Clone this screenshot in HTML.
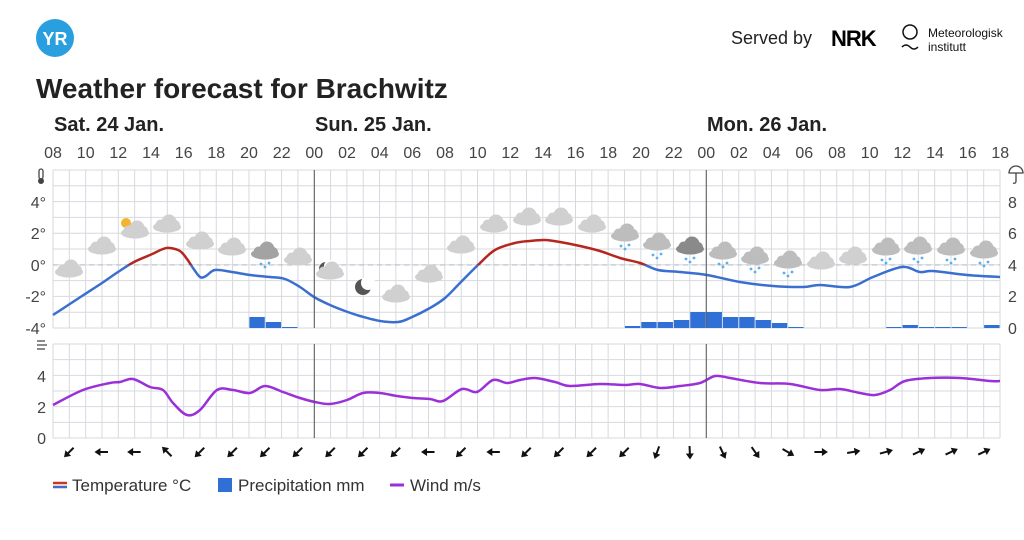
<!DOCTYPE html>
<html><head><meta charset="utf-8"><style>
html,body{margin:0;padding:0;background:#fff;}
svg{display:block;font-family:"Liberation Sans",sans-serif;}
</style></head><body>
<svg id="s" width="1024" height="540" viewBox="0 0 1024 540" xmlns="http://www.w3.org/2000/svg">
<defs>
<clipPath id="above"><rect x="0" y="0" width="1024" height="265"/></clipPath>
<clipPath id="below"><rect x="0" y="265" width="1024" height="300"/></clipPath>
</defs>
<circle cx="55" cy="38" r="19" fill="#2a9fdf"/>
<text x="55" y="45" text-anchor="middle" font-size="18" font-weight="bold" fill="#fff">YR</text>
<text x="731" y="44" font-size="18" fill="#222">Served by</text>
<text x="831" y="46" font-size="22" font-weight="bold" fill="#000" letter-spacing="-1">NRK</text>
<circle cx="910" cy="32" r="7" fill="none" stroke="#111" stroke-width="1.5"/>
<path d="M902 47 q4 -4 8 0 t8 0" fill="none" stroke="#111" stroke-width="1.5"/>
<text x="928" y="37" font-size="12" fill="#111">Meteorologisk</text>
<text x="928" y="51" font-size="12" fill="#111">institutt</text>
<text x="36" y="98" font-size="28" font-weight="bold" fill="#222">Weather forecast for Brachwitz</text>
<g font-size="20" font-weight="bold" fill="#222">
<text x="54" y="131">Sat. 24 Jan.</text>
<text x="315" y="131">Sun. 25 Jan.</text>
<text x="707" y="131">Mon. 26 Jan.</text>
</g>
<g font-size="16" fill="#444" text-anchor="middle">
<text x="53" y="158">08</text><text x="85.7" y="158">10</text><text x="118.3" y="158">12</text><text x="151" y="158">14</text><text x="183.7" y="158">16</text><text x="216.3" y="158">18</text><text x="249" y="158">20</text><text x="281.7" y="158">22</text><text x="314.3" y="158">00</text><text x="347" y="158">02</text><text x="379.7" y="158">04</text><text x="412.3" y="158">06</text><text x="445" y="158">08</text><text x="477.7" y="158">10</text><text x="510.3" y="158">12</text><text x="543" y="158">14</text><text x="575.7" y="158">16</text><text x="608.3" y="158">18</text><text x="641" y="158">20</text><text x="673.7" y="158">22</text><text x="706.3" y="158">00</text><text x="739" y="158">02</text><text x="771.7" y="158">04</text><text x="804.3" y="158">06</text><text x="837" y="158">08</text><text x="869.7" y="158">10</text><text x="902.3" y="158">12</text><text x="935" y="158">14</text><text x="967.7" y="158">16</text><text x="1000.3" y="158">18</text>
</g>
<g font-size="16" fill="#444" text-anchor="end">
<text x="46" y="208">4°</text><text x="46" y="239">2°</text><text x="46" y="271">0°</text><text x="46" y="302">-2°</text><text x="46" y="334">-4°</text>
<text x="46" y="382">4</text><text x="46" y="413">2</text><text x="46" y="444">0</text>
</g>
<g font-size="16" fill="#444">
<text x="1008" y="208">8</text><text x="1008" y="239">6</text><text x="1008" y="271">4</text><text x="1008" y="302">2</text><text x="1008" y="334">0</text>
</g>
<g id="grid" stroke="#d6d9de" stroke-width="1"></g>
<rect x="39" y="169" width="4" height="10" rx="2" fill="none" stroke="#444" stroke-width="1.3"/>
<circle cx="41" cy="181" r="3" fill="#444"/>
<path d="M1009 173 a7 7 0 0 1 14 0 z M1016 173 v8 q0 3 -3 2" fill="none" stroke="#444" stroke-width="1.3"/>
<path d="M37 341 h8 M37 345 h10 M37 349 h8" stroke="#444" stroke-width="1.2"/>
<line x1="53" y1="265" x2="1000" y2="265" stroke="#b8bcc4" stroke-dasharray="5,4"/>
<g id="bars" fill="#2f6fd6"></g>
<g id="icons"></g>
<g id="lines"></g>
<line x1="314.3" y1="170" x2="314.3" y2="328" stroke="#555"/>
<line x1="706.3" y1="170" x2="706.3" y2="328" stroke="#555"/>
<line x1="314.3" y1="344" x2="314.3" y2="438" stroke="#555"/>
<line x1="706.3" y1="344" x2="706.3" y2="438" stroke="#555"/>
<g id="arrows"></g>
<path d="M53 483 h14 M53 487 h14" stroke-width="2.5" stroke="#c0392b"/>
<path d="M53 487 h14" stroke-width="2" stroke="#3a6fd0"/>
<text x="72" y="491" font-size="17" fill="#333">Temperature °C</text>
<rect x="218" y="478" width="14" height="14" fill="#2f6fd6"/>
<text x="238" y="491" font-size="17" fill="#333">Precipitation mm</text>
<line x1="390" y1="485" x2="404" y2="485" stroke="#9b30d9" stroke-width="3"/>
<text x="410" y="491" font-size="17" fill="#333">Wind m/s</text>
</svg>
<script>
var NS="http://www.w3.org/2000/svg";
function el(p,t,a){var e=document.createElementNS(NS,t);for(var k in a)e.setAttribute(k,a[k]);p.appendChild(e);return e;}
var g=document.getElementById('grid'),X0=53,DX=(1000-53)/58;
for(var i=0;i<=58;i++){var x=X0+i*DX;el(g,'line',{x1:x,y1:170,x2:x,y2:328});el(g,'line',{x1:x,y1:344,x2:x,y2:438});}
for(var k=0;k<=10;k++){var y=170+k*15.8;el(g,'line',{x1:53,y1:y,x2:1000,y2:y});}
for(var k=0;k<=6;k++){var y=344+k*15.67;el(g,'line',{x1:53,y1:y,x2:1000,y2:y});}
function smooth(p){var d='M'+p[0][0]+' '+p[0][1];for(var i=0;i<p.length-1;i++){var a=p[i-1]||p[i],b=p[i],c=p[i+1],e=p[i+2]||c;
d+=' C'+(b[0]+(c[0]-a[0])/6)+' '+(b[1]+(c[1]-a[1])/6)+' '+(c[0]-(e[0]-b[0])/6)+' '+(c[1]-(e[1]-b[1])/6)+' '+c[0]+' '+c[1];}return d;}
var T=[[53,315],[82,296],[102,283],[118,272],[134,262],[150,255],[163,249],[170,248],[180,251],[187,259],[193,268],[200,277],[206,276],[215,270],[232,272],[250,275],[270,277],[285,279],[300,287],[314,297],[330,305],[345,311],[360,316],[380,321],[398,322],[410,318],[430,308],[445,298],[460,283],[478,265],[495,250],[515,243],[530,241],[545,240],[560,242],[580,246],[600,251],[620,258],[640,263],[658,270],[680,272],[707,275],[740,282],[773,286],[803,287],[820,285],[850,287],[873,277],[902,267],[920,272],[933,271],[967,275],[1000,277]];
var W=[[53,405],[83,390],[110,383],[120,382],[133,379],[150,387],[163,390],[173,403],[187,415],[200,410],[217,390],[233,390],[250,393],[265,386],[283,392],[300,398],[315,402],[330,404],[347,400],[363,393],[380,393],[397,396],[413,398],[430,399],[443,401],[462,389],[477,392],[493,380],[507,383],[520,380],[535,378],[555,382],[570,386],[600,384],[625,385],[640,384],[660,388],[680,386],[700,383],[715,376],[730,378],[760,383],[790,384],[820,390],[840,389],[860,393],[875,395],[890,390],[905,381],[930,378],[960,378],[990,381],[1000,381]];
var L=document.getElementById('lines'),dt=smooth(T);
el(L,'path',{d:dt,fill:'none',stroke:'#3a6fd0','stroke-width':2.5,'clip-path':'url(#below)'});
el(L,'path',{d:dt,fill:'none',stroke:'#b5261e','stroke-width':2.5,'clip-path':'url(#above)'});
el(L,'path',{d:smooth(W),fill:'none',stroke:'#9b30d9','stroke-width':2.5});
var B=[[12,317],[13,322],[14,327],[35,326],[36,322],[37,322],[38,320],[39,312],[40,312],[41,317],[42,317],[43,320],[44,323],[45,327],[51,327],[52,325],[53,327],[54,327],[55,327],[57,325]],bb=document.getElementById('bars');
B.forEach(function(b){el(bb,'rect',{x:X0+b[0]*DX+0.5,y:b[1],width:DX-1,height:328-b[1]});});
var I=[[69,270,0],[102,247,0],[135,231,4],[167,225,0],[200,242,0],[232,248,0],[265,252,2],[298,258,0],[330,272,5],[363,287,6],[396,295,0],[429,275,0],[461,246,0],[494,225,0],[527,218,0],[559,218,0],[592,225,0],[625,234,1],[657,243,1],[690,247,3],[723,252,1],[755,257,1],[788,261,1],[821,262,0],[853,257,0],[886,248,1],[918,247,1],[951,248,1],[984,251,1]],ic=document.getElementById('icons');
I.forEach(function(c){var x=c[0],y=c[1],t=c[2];
if(t==6){el(ic,'circle',{cx:x,cy:y,r:8,fill:'#555'});el(ic,'circle',{cx:x+5,cy:y-4,r:7,fill:'#fff'});return;}
if(t==4){el(ic,'circle',{cx:x-9,cy:y-8,r:5,fill:'#f2b431'});}
if(t==5){el(ic,'circle',{cx:x-4,cy:y-3,r:7,fill:'#555'});el(ic,'circle',{cx:x,cy:y-6,r:6,fill:'#fff'});}
var col=t==2||t==3?(t==3?'#8a8a8a':'#a3a3a3'):(t==1?'#bdbdbd':'#d0d0d0');
var gg=el(ic,'g',{fill:col});
el(gg,'ellipse',{cx:x,cy:y+2,rx:14,ry:5.5});el(gg,'circle',{cx:x+2,cy:y-3,r:7.5});el(gg,'circle',{cx:x-6,cy:y,r:5.5});el(gg,'circle',{cx:x+8,cy:y,r:5});
if(t==1||t==2||t==3){[[-4,12],[4,11],[0,15]].forEach(function(p){el(ic,'circle',{cx:x+p[0],cy:y+p[1],r:1.4,fill:'#5ab0e8'});});}
});
var A=[225,180,180,135,225,225,225,225,225,225,225,180,225,180,225,225,225,225,250,272,295,305,330,360,10,15,25,25,25],ar=document.getElementById('arrows');
A.forEach(function(a,i){var x=X0+(2*i+1)*DX,y=452;var gr=el(ar,'g',{transform:'translate('+x+' '+y+') rotate('+(-a+180)+')'});
el(gr,'line',{x1:-5,y1:0,x2:6,y2:0,stroke:'#111','stroke-width':2});el(gr,'path',{d:'M-7.5 0 L-1.5 -4 L-1.5 4 Z',fill:'#111'});});
</script>
</body></html>
